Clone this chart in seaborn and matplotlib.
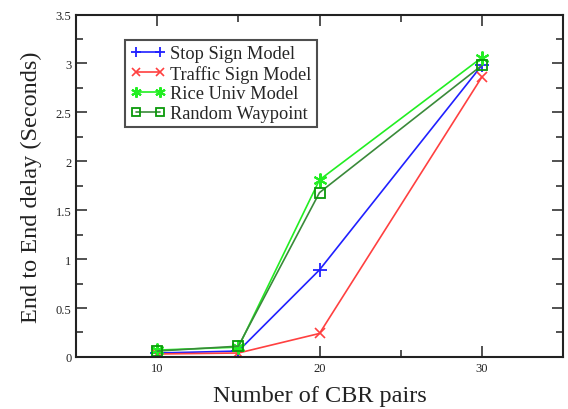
import matplotlib
matplotlib.use("Agg")
import matplotlib.pyplot as plt
import matplotlib.ticker as mticker
import seaborn as sns
import pandas as pd

cbr_pairs = [10, 15, 20, 30]
stop_sign = [0.04, 0.06, 0.89, 2.98]
traffic_sign = [0.03, 0.04, 0.24, 2.86]
rice_univ = [0.07, 0.10, 1.81, 3.06]
random_waypoint = [0.06, 0.11, 1.68, 2.98]

series_names = ["Stop Sign Model", "Traffic Sign Model", "Rice Univ Model", "Random Waypoint"]
series_values = [stop_sign, traffic_sign, rice_univ, random_waypoint]

sns.set_theme(style="white")
plt.rcParams["font.family"] = ["Liberation Serif", "DejaVu Serif"]

fig = plt.figure(figsize=(5.68, 4.10), dpi=100)
ax = fig.add_axes([0.134, 0.127, 0.857, 0.835])

styles = {
    "Stop Sign Model": dict(color="#2020ff", marker="+", ms=10, mew=1.3, mfc="#2020ff", mec="#2020ff"),
    "Traffic Sign Model": dict(color="#ff4040", marker="x", ms=7, mew=1.2, mfc="#ff4040", mec="#ff4040"),
    "Rice Univ Model": dict(color="#22ee22", marker=(6, 2, 0), ms=10, mew=1.5, mfc="#22ee22", mec="#22ee22"),
    "Random Waypoint": dict(color="#3a8a3a", marker="s", ms=7, mew=1.3, mfc="none", mec="#0a9a0a"),
}

for name, vals in zip(series_names, series_values):
    df = pd.DataFrame({"x": cbr_pairs, "y": vals})
    st = styles[name]
    sns.lineplot(data=df, x="x", y="y", ax=ax, label=name, color=st["color"],
                 marker=st["marker"], markersize=st["ms"], markeredgewidth=st["mew"],
                 markerfacecolor=st["mfc"], markeredgecolor=st["mec"], linewidth=1.2)

ax.set_xlim(5, 35)
ax.set_ylim(0, 3.5)
ax.xaxis.set_major_locator(mticker.FixedLocator([10, 20, 30]))
ax.xaxis.set_minor_locator(mticker.FixedLocator([15, 25]))
ax.yaxis.set_major_locator(mticker.MultipleLocator(0.5))
ax.yaxis.set_minor_locator(mticker.MultipleLocator(0.25))
ax.yaxis.set_major_formatter(mticker.FormatStrFormatter("%g"))
ax.tick_params(which="both", direction="in", top=True, right=True, bottom=True, left=True,
               colors="#333333", labelcolor="#222222", labelsize=9, width=1.2)
ax.tick_params(which="major", length=8)
ax.tick_params(which="minor", length=5)
for sp in ax.spines.values():
    sp.set_color("#222222")
    sp.set_linewidth(1.5)

ax.set_xlabel("Number of CBR pairs", fontsize=17.5, color="#222222", labelpad=8)
ax.set_ylabel("End to End delay (Seconds)", fontsize=17.5, color="#222222", labelpad=10)

leg = ax.legend(loc="upper left", bbox_to_anchor=(0.10, 0.926), frameon=True, fancybox=False,
                fontsize=13.2, handlelength=1.9, handletextpad=0.25, borderpad=0.3,
                labelspacing=0.14, borderaxespad=0, numpoints=2, markerscale=0.75)
leg.get_frame().set_edgecolor("#222222")
leg.get_frame().set_linewidth(1.5)

fig.savefig("out.png", dpi=100)
